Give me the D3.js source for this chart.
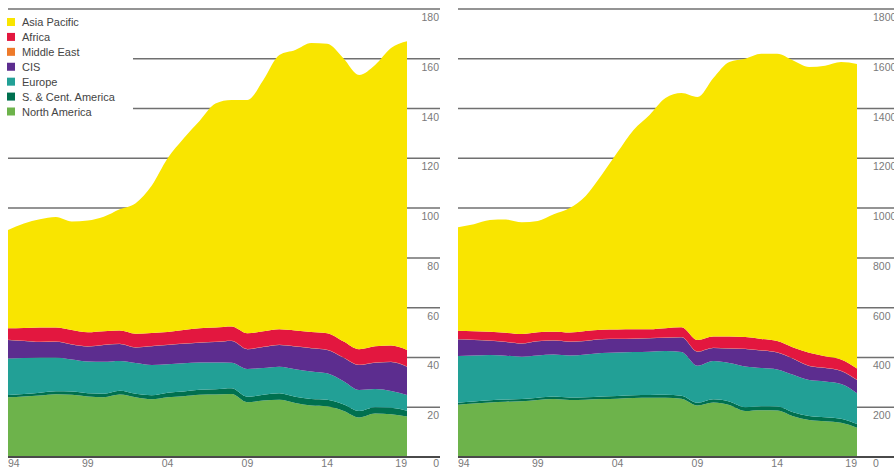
<!DOCTYPE html>
<html>
<head>
<meta charset="utf-8">
<script src="https://cdn.jsdelivr.net/npm/d3@7"></script>
<style>
  body { margin: 0; background: #fff; }
  svg { display: block; font-family: "Liberation Sans", Arial, sans-serif; }
</style>
</head>
<body>
<svg width="894" height="469"></svg>
<script>
var years = d3.range(1994, 2020)
var regions = ["North America", "S. & Cent. America", "Europe", "CIS", "Middle East", "Africa", "Asia Pacific"]
var legendOrder = ["Asia Pacific", "Africa", "Middle East", "CIS", "Europe", "S. & Cent. America", "North America"]
var colors = ["#6db34b", "#00704f", "#22a096", "#5c2d8f", "#ee7a2a", "#e3173f", "#f9e500"]
var yTicks = [0, 20, 40, 60, 80, 100, 120, 140, 160, 180]
var xTicks = [1994, 1999, 2004, 2009, 2014, 2019]

// left chart (production)
var prodNorthAmerica = [24.0, 24.3, 24.7, 25.2, 25.0, 24.3, 24.0, 25.1, 24.0, 23.2, 24.0, 24.4, 25.0, 25.1, 25.3, 22.0, 22.7, 23.0, 21.7, 20.7, 20.4, 18.6, 15.9, 17.5, 17.2, 16.3]
var prodSCAmerica = [0.9, 1.0, 1.1, 1.2, 1.3, 1.3, 1.4, 1.5, 1.4, 1.6, 1.8, 1.9, 2.0, 2.1, 2.3, 2.2, 2.3, 2.6, 2.5, 2.6, 2.6, 2.6, 2.6, 2.5, 2.6, 2.3]
var prodEurope = [14.7, 14.5, 14.2, 13.6, 12.9, 12.8, 12.9, 12.0, 12.4, 12.2, 11.5, 11.4, 11.0, 10.8, 10.3, 11.2, 10.8, 10.7, 11.1, 11.1, 10.6, 9.3, 8.4, 7.3, 6.7, 6.3]
var prodCIS = [7.4, 6.8, 6.2, 6.3, 6.0, 6.0, 6.7, 6.8, 6.2, 7.5, 7.7, 7.8, 7.9, 8.2, 8.7, 7.9, 8.4, 8.7, 9.1, 9.3, 9.4, 9.5, 10.1, 10.6, 11.7, 11.4]
var prodMiddleEast = [0.1, 0.1, 0.1, 0.1, 0.1, 0.1, 0.1, 0.1, 0.1, 0.1, 0.1, 0.1, 0.1, 0.1, 0.1, 0.1, 0.1, 0.1, 0.1, 0.1, 0.1, 0.1, 0.1, 0.1, 0.1, 0.1]
var prodAfrica = [4.6, 5.1, 5.7, 5.6, 5.7, 5.6, 5.4, 5.3, 5.4, 5.2, 5.1, 5.4, 5.7, 5.7, 5.7, 6.3, 6.2, 6.2, 6.3, 6.4, 6.6, 6.4, 6.2, 6.5, 6.5, 6.6]
var prodAsiaPacific = [39.5, 42.0, 43.5, 44.4, 43.6, 44.9, 46.0, 48.7, 52.5, 59.2, 69.8, 77.0, 83.3, 90.0, 91.0, 93.7, 101.0, 110.2, 112.7, 116.1, 116.3, 113.8, 110.2, 113.0, 119.5, 124.0]

// right chart (consumption)
var consNorthAmerica = [21.0, 21.5, 21.9, 22.2, 22.4, 22.9, 23.3, 22.9, 23.0, 23.3, 23.4, 23.7, 23.8, 23.8, 23.4, 20.7, 21.9, 20.9, 18.5, 18.8, 18.7, 16.4, 14.9, 14.4, 13.8, 11.8]
var consSCAmerica = [0.8, 0.8, 0.9, 0.9, 0.9, 0.9, 1.0, 1.0, 1.0, 1.0, 1.1, 1.1, 1.1, 1.2, 1.2, 1.1, 1.3, 1.4, 1.5, 1.6, 1.6, 1.6, 1.6, 1.6, 1.6, 1.5]
var consEurope = [18.8, 18.5, 18.2, 17.6, 17.0, 17.0, 16.9, 16.9, 17.2, 17.5, 17.5, 17.4, 17.4, 17.6, 17.6, 14.9, 15.4, 15.5, 16.4, 15.4, 14.9, 15.0, 14.4, 14.3, 13.9, 12.3]
var consCIS = [6.7, 6.2, 5.7, 5.5, 5.3, 5.7, 5.6, 5.5, 5.4, 5.5, 5.4, 5.3, 5.4, 5.3, 5.9, 5.6, 5.2, 5.8, 7.0, 7.0, 6.8, 6.5, 5.7, 5.5, 5.3, 5.3]
var consMiddleEast = [0.1, 0.1, 0.1, 0.1, 0.1, 0.1, 0.1, 0.1, 0.1, 0.1, 0.1, 0.1, 0.1, 0.1, 0.1, 0.1, 0.1, 0.1, 0.1, 0.1, 0.1, 0.1, 0.1, 0.1, 0.1, 0.1]
var consAfrica = [3.3, 3.4, 3.5, 3.6, 3.7, 3.5, 3.4, 3.6, 3.9, 3.7, 3.7, 3.7, 3.5, 3.7, 3.9, 4.6, 4.5, 4.7, 4.7, 4.5, 4.5, 4.4, 5.2, 4.6, 4.5, 4.6]
var consAsiaPacific = [41.6, 43.0, 44.9, 45.5, 44.9, 44.7, 47.2, 50.0, 54.3, 62.2, 71.3, 80.1, 86.1, 92.5, 94.1, 97.6, 103.9, 110.3, 111.8, 114.6, 115.4, 115.3, 114.8, 116.7, 119.5, 122.3]

var prodSeries = [prodNorthAmerica, prodSCAmerica, prodEurope, prodCIS, prodMiddleEast, prodAfrica, prodAsiaPacific]
var consSeries = [consNorthAmerica, consSCAmerica, consEurope, consCIS, consMiddleEast, consAfrica, consAsiaPacific]

function makeRows(series) {
  return years.map(function(yr, i) {
    var row = {year: yr}
    regions.forEach(function(r, j) { row[r] = series[j][i] })
    return row
  })
}

var svg = d3.select("svg")
var color = d3.scaleOrdinal().domain(regions).range(colors)
var y = d3.scaleLinear().domain([0, 180]).range([457, 9])

function drawPanel(series, x0, gridEnd, labelX, labelAnchor, labelFn, skipLegend) {
  var x = d3.scaleLinear().domain([1994, 2019]).range([x0, x0 + 399])
  var g = svg.append("g")

  // gridlines behind the areas
  g.selectAll("line.grid")
    .data(yTicks.filter(function(t) { return t > 0 }))
    .join("line")
    .attr("class", "grid")
    .attr("x1", function(t) { return (skipLegend && (t == 140 || t == 160)) ? 133 : x0 })
    .attr("x2", gridEnd)
    .attr("y1", function(t) { return y(t) })
    .attr("y2", function(t) { return y(t) })
    .attr("stroke", "#707070")
    .attr("stroke-width", 1.5)

  var stacked = d3.stack().keys(regions)(makeRows(series))
  var area = d3.area()
    .x(function(d) { return x(d.data.year) })
    .y0(function(d) { return y(d[0]) })
    .y1(function(d) { return y(d[1]) })
    .curve(d3.curveMonotoneX)

  g.selectAll("path.layer")
    .data(stacked)
    .join("path")
    .attr("class", "layer")
    .attr("d", area)
    .attr("fill", function(d) { return color(d.key) })

  // baseline
  g.append("line")
    .attr("x1", x0).attr("x2", gridEnd)
    .attr("y1", y(0)).attr("y2", y(0))
    .attr("stroke", "#4a4a4a")
    .attr("stroke-width", 2)

  g.selectAll("text.ylab")
    .data(yTicks)
    .join("text")
    .attr("class", "ylab")
    .attr("x", labelX)
    .attr("y", function(t) { return t == 0 ? 467 : y(t) + 12 })
    .attr("text-anchor", labelAnchor)
    .attr("font-size", 10.5)
    .attr("fill", "#7a7a7a")
    .text(labelFn)

  g.selectAll("text.xlab")
    .data(xTicks)
    .join("text")
    .attr("class", "xlab")
    .attr("x", function(t) { return x(t) })
    .attr("y", 467)
    .attr("text-anchor", function(t) { return t == 1994 ? "start" : (t == 2019 ? "end" : "middle") })
    .attr("font-size", 10.5)
    .attr("fill", "#7a7a7a")
    .text(function(t) { return String(t).slice(2) })
}

drawPanel(prodSeries, 8, 440, 439, "end", function(t) { return t }, true)
drawPanel(consSeries, 458, 894, 873, "start", function(t) { return t == 0 ? "0" : t * 10 }, false)

// legend
var legend = svg.append("g")
var rowY = d3.scalePoint().domain(legendOrder).range([22, 111.5])
legend.selectAll("rect")
  .data(legendOrder)
  .join("rect")
  .attr("x", 7)
  .attr("y", function(d) { return rowY(d) - 4 })
  .attr("width", 8)
  .attr("height", 8)
  .attr("fill", function(d) { return color(d) })
legend.selectAll("text")
  .data(legendOrder)
  .join("text")
  .attr("x", 22)
  .attr("y", function(d) { return rowY(d) + 4 })
  .attr("font-size", 11)
  .attr("fill", "#444")
  .text(function(d) { return d })
</script>
</body>
</html>
